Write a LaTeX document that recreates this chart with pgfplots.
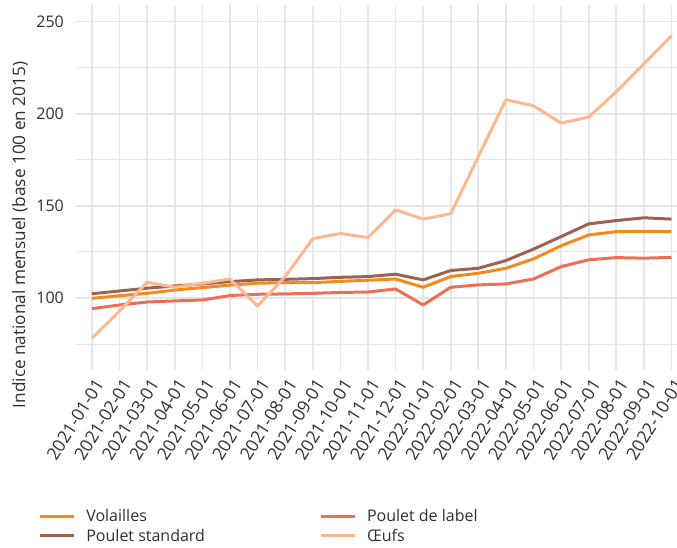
\documentclass[border=0pt]{standalone}
\usepackage{pgfplots}
\pgfplotsset{compat=1.18}
\usepackage{fontspec}
\setmainfont{Open Sans}
\definecolor{cvol}{HTML}{F28A1E}
\definecolor{cstd}{HTML}{9C6253}
\definecolor{clab}{HTML}{EF6F56}
\definecolor{coeuf}{HTML}{FDB892}
\definecolor{gridc}{HTML}{E6E6E6}
\definecolor{txtc}{HTML}{303030}
\pgfplotstableread{
x vol std lab oeuf
0 99.8 102.3 94.2 78.1
1 101.2 103.8 96.2 93.0
2 102.5 105.3 97.8 108.5
3 104.3 106.5 98.4 105.8
4 105.6 107.6 98.9 108.0
5 107.0 108.9 101.3 110.3
6 108.0 109.8 102.0 95.7
7 108.3 110.1 102.2 111.6
8 108.3 110.5 102.5 132.2
9 109.0 111.2 103.0 135.0
10 109.6 111.6 103.2 132.8
11 110.3 112.9 104.9 147.8
12 105.8 109.8 96.2 142.8
13 111.6 114.9 105.8 145.7
14 113.4 116.1 107.1 176.8
15 116.1 120.3 107.6 207.6
16 121.2 126.5 110.3 204.3
17 128.3 133.3 117.0 194.9
18 134.2 140.2 120.7 198.2
19 136.0 142.0 121.9 212.0
20 136.2 143.5 121.6 227.0
21 136.0 142.8 122.0 242.4
}\data
\begin{document}
\begin{tikzpicture}
\begin{axis}[
  at={(76pt,178pt)}, anchor=south west,
  scale only axis, width=601pt, height=365pt,
  xmin=-0.58, xmax=21.2, ymin=60.9, ymax=259,
  axis line style={draw=none}, major tick length=0pt, minor tick length=0pt,
  xtick={0,...,21},
  xticklabels={2021-01-01,2021-02-01,2021-03-01,2021-04-01,2021-05-01,2021-06-01,2021-07-01,2021-08-01,2021-09-01,2021-10-01,2021-11-01,2021-12-01,2022-01-01,2022-02-01,2022-03-01,2022-04-01,2022-05-01,2022-06-01,2022-07-01,2022-08-01,2022-09-01,2022-10-01},
  ytick={100,150,200,250}, minor ytick={75,125,175,225},
  grid=both,
  major grid style={line width=1.7pt, color=gridc},
  minor grid style={line width=0.9pt, color=gridc},
  /pgf/number format/assume math mode=true,
  ticklabel style={font=\fontsize{16}{19}\selectfont, text=txtc},
  yticklabel style={anchor=east, inner sep=0pt, xshift=-12pt},
  xticklabel style={font=\fontsize{17.5}{20}\selectfont, rotate=58, anchor=east, inner sep=0pt, yshift=-12pt, xshift=-5pt},
  legend columns=2,
  legend cell align=left,
  legend style={draw=none, fill=none, at={(-0.068,-0.37)}, anchor=north west,
    font=\fontsize{16}{19}\selectfont, text=txtc, row sep=2pt,
    /tikz/every odd column/.append style={column sep=9pt},
    /tikz/every even column/.append style={column sep=112pt}},
  legend image code/.code={\draw[#1, line width=3pt] (0pt,0pt) -- (34pt,0pt);},
  every axis plot/.append style={line width=3pt, line join=round},
]
\addplot[cvol] table[x=x,y=vol] {\data};
\addlegendentry{Volailles}
\addplot[clab] table[x=x,y=lab] {\data};
\addlegendentry{Poulet de label}
\addplot[cstd] table[x=x,y=std] {\data};
\addlegendentry{Poulet standard}
\addplot[coeuf] table[x=x,y=oeuf] {\data};
\addlegendentry{Œufs}
\end{axis}
\node[rotate=90, font=\fontsize{17.2}{20}\selectfont, text=txtc] at (20pt,313pt) {Indice national mensuel (base 100 en 2015)};
\pgfresetboundingbox
\useasboundingbox (0pt,0pt) rectangle (677pt,548pt);
\end{tikzpicture}
\end{document}
